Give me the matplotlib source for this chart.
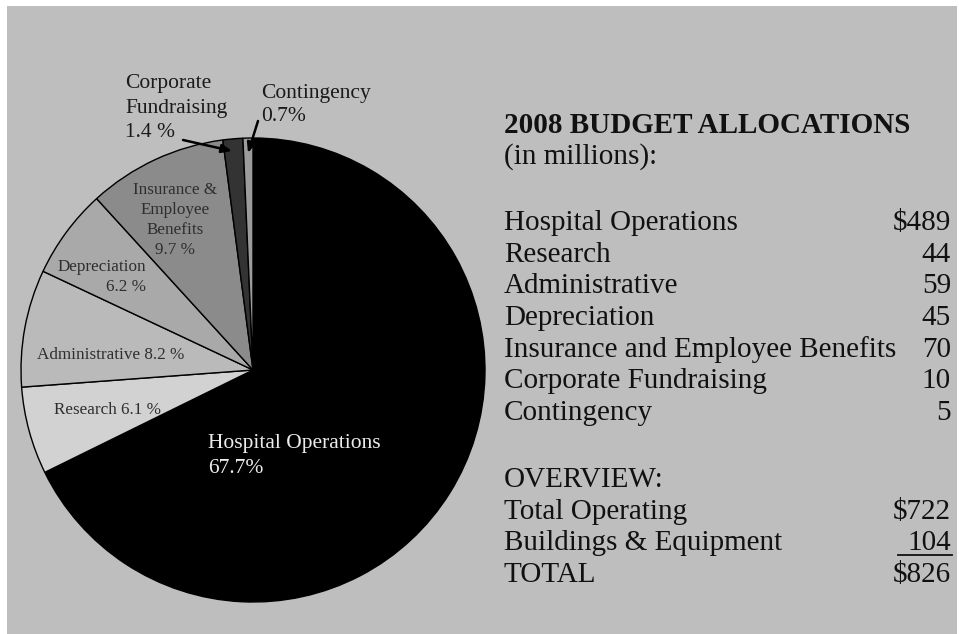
import matplotlib
matplotlib.use("Agg")
import matplotlib.pyplot as plt
from matplotlib.patches import Rectangle

# ---- data ----
categories = ["Hospital Operations", "Research", "Administrative", "Depreciation",
              "Insurance and Employee Benefits", "Corporate Fundraising", "Contingency"]
values = [489, 44, 59, 45, 70, 10, 5]
pie_colors = ["#000000", "#d2d2d2", "#bababa", "#a9a9a9", "#8b8b8b", "#333333", "#9c9c9c"]
overview_labels = ["Total Operating", "Buildings & Equipment", "TOTAL"]
overview_values = [722, 104, 826]

plt.rcParams['font.family'] = ['Liberation Serif', 'DejaVu Serif']

W, H = 959, 634
fig = plt.figure(figsize=(W / 100, H / 100), dpi=100, facecolor="white")
ax = fig.add_axes([0, 0, 1, 1])

total = sum(values)
pcts = [100 * v / total for v in values]

# pie in pixel coordinates (y inverted)
wedges, _ = ax.pie(values, colors=pie_colors, center=(253, 370), radius=232,
                   startangle=-90, counterclock=True,
                   wedgeprops=dict(edgecolor="black", linewidth=1.0))
for w in wedges:
    w.set_zorder(2)

ax.set_xlim(0, W)
ax.set_ylim(H, 0)
ax.set_aspect("equal")
ax.axis("off")
ax.add_patch(Rectangle((7, 6), 950, 628, facecolor="#bebebe", edgecolor="none", zorder=0))

lab_col = "#2e2e2e"
small = 12.3
big = 15.5

ax.text(208, 456, f"{categories[0]}\n{pcts[0]:.1f}%", color="#ececec", fontsize=big,
        ha="left", va="center", linespacing=1.37, zorder=3)
ax.text(54, 410, f"{categories[1]} {pcts[1]:.1f} %", color=lab_col, fontsize=small,
        ha="left", va="center", zorder=3)
ax.text(37, 355, f"{categories[2]} {pcts[2]:.1f} %", color=lab_col, fontsize=small,
        ha="left", va="center", zorder=3)
ax.text(146, 277, f"{categories[3]}\n{pcts[3]:.1f} %", color=lab_col, fontsize=small,
        ha="right", va="center", multialignment="right", linespacing=1.4, zorder=3)
ax.text(175, 220, f"Insurance &\nEmployee\nBenefits\n{pcts[4]:.1f} %", color=lab_col,
        fontsize=small, ha="center", va="center", multialignment="center",
        linespacing=1.35, zorder=3)

ax.text(125, 108, f"Corporate\nFundraising\n{pcts[5]:.1f} %", color="#1a1a1a",
        fontsize=big, ha="left", va="center", linespacing=1.4, zorder=3)
ax.text(261, 105, f"{categories[6]}\n{pcts[6]:.1f}%", color="#1a1a1a",
        fontsize=big, ha="left", va="center", linespacing=1.27, zorder=3)

arrow = dict(arrowstyle="-|>,head_length=0.6,head_width=0.25", color="black", lw=1.8,
             shrinkA=0, shrinkB=0)
ax.annotate("", xy=(232, 151), xytext=(183, 140), arrowprops=arrow, zorder=4)
ax.annotate("", xy=(248, 153), xytext=(258, 121), arrowprops=arrow, zorder=4)

# ---- right-hand table ----
tx, rx = 504, 951
fs = 21
ax.text(tx, 133, "2008 BUDGET ALLOCATIONS", fontsize=fs, fontweight="bold",
        color="#111111", ha="left", va="baseline")
ax.text(tx, 164, "(in millions):", fontsize=fs, color="#111111", ha="left", va="baseline")

row_y = [230, 262, 293, 325, 357, 388, 420]
for i, (c, v) in enumerate(zip(categories, values)):
    ax.text(tx, row_y[i], c, fontsize=fs, color="#111111", ha="left", va="baseline")
    s = f"${v}" if i == 0 else f"{v}"
    ax.text(rx, row_y[i], s, fontsize=fs, color="#111111", ha="right", va="baseline")

ax.text(tx, 487, "OVERVIEW:", fontsize=fs, color="#111111", ha="left", va="baseline")
ov_y = [519, 550, 582]
for i, (c, v) in enumerate(zip(overview_labels, overview_values)):
    ax.text(tx, ov_y[i], c, fontsize=fs, color="#111111", ha="left", va="baseline")
    s = f"{v}" if i == 1 else f"${v}"
    ax.text(rx, ov_y[i], s, fontsize=fs, color="#111111", ha="right", va="baseline")
ax.plot([898, 952], [555, 555], color="#111111", lw=1.3)

fig.savefig("out.png", dpi=100, facecolor="white")
